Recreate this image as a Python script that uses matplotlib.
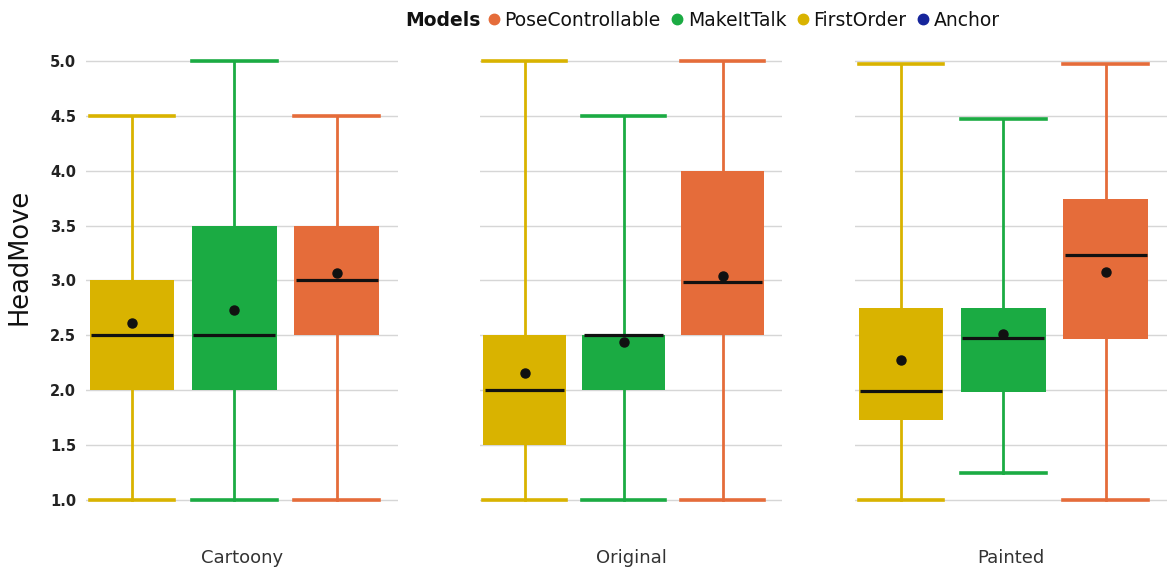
import matplotlib.pyplot as plt
from matplotlib.lines import Line2D

groups = ['Cartoony', 'Original', 'Painted']
models = ['FirstOrder', 'MakeItTalk', 'PoseControllable']
colors = {'FirstOrder': '#D9B300', 'MakeItTalk': '#1BAB43',
          'PoseControllable': '#E56C3A', 'Anchor': '#16259B'}

# per group, per model (FirstOrder, MakeItTalk, PoseControllable)
whis_lo = [[1.0, 1.0, 1.0], [1.0, 1.0, 1.0], [1.0, 1.25, 1.0]]
q1 = [[2.0, 2.0, 2.5], [1.5, 2.0, 2.5], [1.73, 1.98, 2.47]]
median = [[2.5, 2.5, 3.0], [2.0, 2.5, 2.99], [1.99, 2.48, 3.23]]
q3 = [[3.0, 3.5, 3.5], [2.5, 2.5, 4.0], [2.75, 2.75, 3.74]]
whis_hi = [[4.5, 5.0, 4.5], [5.0, 4.5, 5.0], [4.97, 4.47, 4.97]]
mean = [[2.61, 2.73, 3.07], [2.16, 2.44, 3.04], [2.28, 2.51, 3.08]]

yticks = [1.0, 1.5, 2.0, 2.5, 3.0, 3.5, 4.0, 4.5, 5.0]

W, H = 1171, 579
fig = plt.figure(figsize=(W / 100, H / 100), dpi=100)

# axes rectangles in pixels: left, width
rects = [(86, 312), (480, 302), (855, 312)]
bottom_px, top_px = 505.5, 55.5

for g, (name, (lx, wx)) in enumerate(zip(groups, rects)):
    ax = fig.add_axes([lx / W, 1 - bottom_px / H, wx / W,
                       (bottom_px - top_px) / H])
    stats = []
    for m in range(len(models)):
        stats.append(dict(whislo=whis_lo[g][m], q1=q1[g][m],
                          med=median[g][m], q3=q3[g][m],
                          whishi=whis_hi[g][m], mean=mean[g][m],
                          fliers=[]))
    res = ax.bxp(stats, positions=[0, 1, 2], widths=0.83, capwidths=0.83,
                 patch_artist=True, showmeans=True, showfliers=False,
                 boxprops=dict(edgecolor='none'),
                 medianprops=dict(color='#111111', lw=2.3),
                 meanprops=dict(marker='o', markerfacecolor='#111111',
                                markeredgecolor='#111111', markersize=6.5),
                 whiskerprops=dict(lw=2), capprops=dict(lw=2.6))
    for m, model in enumerate(models):
        c = colors[model]
        res['boxes'][m].set_facecolor(c)
        for ln in res['whiskers'][2 * m:2 * m + 2] + res['caps'][2 * m:2 * m + 2]:
            ln.set_color(c)
        res['medians'][m].set_xdata([m - 0.4, m + 0.4])

    ax.set_xlim(-0.45, 2.6)
    ax.set_ylim(0.95, 5.05)
    ax.set_yticks(yticks)
    ax.yaxis.grid(True, color='#d6d6d6', lw=1)
    ax.set_axisbelow(True)
    for s in ax.spines.values():
        s.set_visible(False)
    ax.set_xticks([])
    ax.tick_params(axis='y', length=0, pad=7)
    if g == 0:
        ax.set_yticklabels([f'{t:.1f}' for t in yticks], fontsize=10.5,
                           color='#222222', fontweight='semibold')
        ax.set_ylabel('HeadMove', fontsize=18.5, color='#111111')
        ax.yaxis.set_label_coords(-0.17, 0.552)
    else:
        ax.set_yticklabels([])
    ax.set_xlabel(name, fontsize=13, color='#333333', labelpad=31)

title = fig.text(405 / W, 1 - 20 / H, 'Models', fontsize=13.5,
                 fontweight='bold', color='#111111', va='center', ha='left')
fig.canvas.draw()
title_end = title.get_window_extent().x1

order = ['PoseControllable', 'MakeItTalk', 'FirstOrder', 'Anchor']
handles = [Line2D([], [], ls='none', marker='o', markersize=7.5,
                  color=colors[k]) for k in order]
fig.legend(handles, order, loc='center left', ncol=4,
           bbox_to_anchor=((title_end + 6) / W, 1 - 20 / H), frameon=False,
           fontsize=13.5, handlelength=0.8, handletextpad=0.15,
           columnspacing=0.5, borderaxespad=0, borderpad=0,
           labelcolor='#111111')

fig.savefig('out.png', dpi=100)
